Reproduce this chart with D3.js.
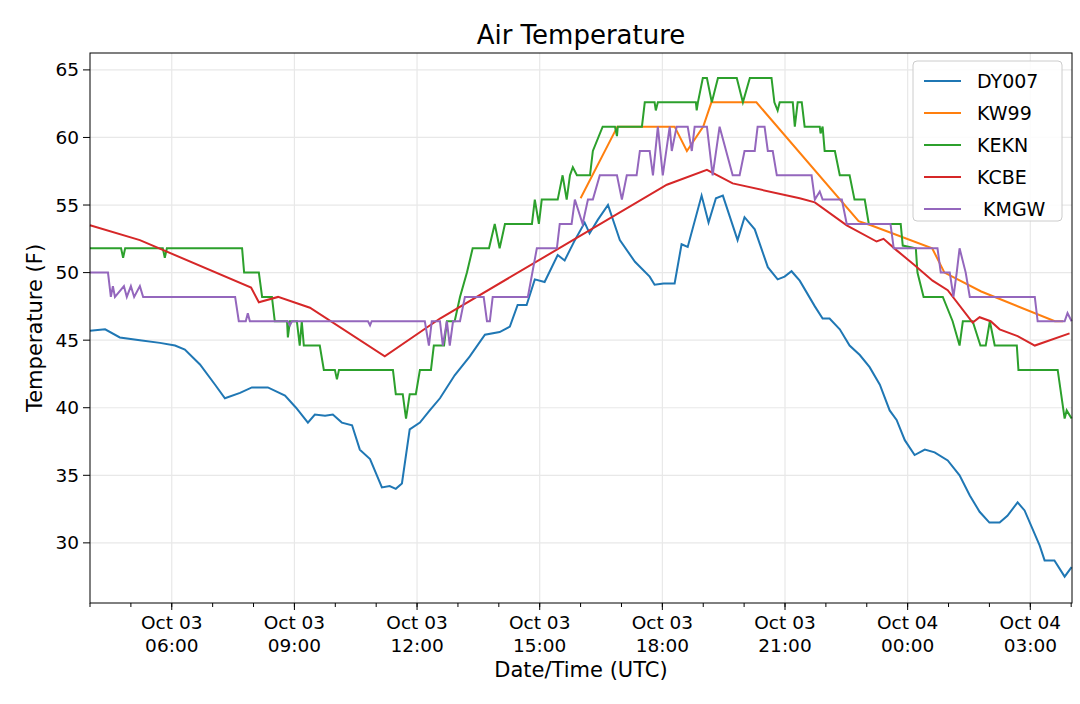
<!DOCTYPE html>
<html>
<head>
<meta charset="utf-8">
<script src="https://d3js.org/d3.v7.min.js"></script>
<style>
  body { margin: 0; background: #fff; }
  text { font-family: "DejaVu Sans", sans-serif; fill: #000; }
</style>
</head>
<body>
<div id="chart"></div>
<script>
// hours after Oct 03 04:00 UTC, temperature (F)
const dy007 = [[0,45.7],[0.37,45.8],[0.73,45.2],[1.22,45],[1.71,44.8],[2.08,44.6],[2.32,44.3],[2.69,43.2],[3.06,41.7],[3.30,40.7],[3.67,41.1],[3.96,41.5],[4.35,41.5],[4.77,40.9],[5.04,40],[5.33,38.9],[5.50,39.5],[5.75,39.4],[5.94,39.5],[6.16,38.9],[6.41,38.7],[6.60,36.9],[6.85,36.2],[7.14,34.1],[7.33,34.2],[7.48,34],[7.63,34.4],[7.82,38.4],[8.07,38.9],[8.31,39.8],[8.56,40.7],[8.92,42.4],[9.29,43.8],[9.66,45.4],[10.02,45.6],[10.27,46],[10.46,47.6],[10.68,47.6],[10.88,49.5],[11.12,49.3],[11.44,51.3],[11.61,50.9],[11.86,52.4],[12.10,53.7],[12.22,52.9],[12.42,53.9],[12.67,55],[12.96,52.4],[13.33,50.8],[13.69,49.7],[13.81,49.1],[14.03,49.2],[14.30,49.2],[14.47,52.1],[14.62,51.9],[14.96,55.7],[15.13,53.7],[15.31,55.5],[15.48,55.7],[15.84,52.4],[16.01,54.1],[16.26,53.2],[16.58,50.4],[16.82,49.5],[16.99,49.7],[17.16,50.1],[17.36,49.4],[17.73,47.5],[17.92,46.6],[18.09,46.6],[18.34,45.8],[18.58,44.6],[18.83,43.9],[19.07,43],[19.32,41.7],[19.56,39.8],[19.73,39.1],[19.93,37.6],[20.17,36.5],[20.42,36.9],[20.66,36.7],[20.98,36.1],[21.27,35],[21.52,33.5],[21.76,32.3],[22.00,31.5],[22.25,31.5],[22.44,32],[22.69,33],[22.86,32.4],[23.23,29.8],[23.35,28.7],[23.59,28.7],[23.84,27.5],[24.01,28.2]];

const kw99 = [[12.0,55.5],[12.9,60.8],[14.3,60.8],[14.6,59],[15.0,60.8],[15.2,62.6],[16.3,62.6],[18.8,53.8],[19.1,53.5],[20.6,51.8],[20.9,50],[21.8,48.6],[23.6,46.4],[23.8,46.4]];

const kekn = [[0,51.8],[0.76,51.8],[0.81,51.1],[0.86,51.8],[1.78,51.8],[1.83,51.1],[1.88,51.8],[3.72,51.8],[3.77,50],[4.13,50],[4.21,48.2],[4.45,48.2],[4.52,46.4],[4.82,46.4],[4.84,45.2],[4.89,46.4],[5.06,46.4],[5.13,44.6],[5.18,46.4],[5.23,44.6],[5.62,44.6],[5.72,42.8],[5.99,42.8],[6.04,42.1],[6.09,42.8],[7.41,42.8],[7.48,41],[7.65,41],[7.73,39.2],[7.82,41],[7.97,41],[8.07,42.8],[8.34,42.8],[8.41,44.6],[8.66,44.6],[8.73,46.4],[8.92,46.4],[9.05,48.2],[9.22,50],[9.36,51.8],[9.76,51.8],[9.90,53.6],[10.02,51.8],[10.15,53.6],[10.81,53.6],[10.88,55.4],[10.98,53.6],[11.05,55.4],[11.44,55.4],[11.56,57.2],[11.66,55.4],[11.74,57.2],[11.81,57.8],[11.91,57.2],[12.23,57.2],[12.30,59],[12.54,60.8],[12.84,60.8],[12.89,60.1],[12.91,60.8],[13.50,60.8],[13.57,62.6],[13.81,62.6],[13.84,62],[13.89,62.6],[14.82,62.6],[14.84,62],[14.87,62.6],[14.99,64.4],[15.09,64.4],[15.21,62.6],[15.36,64.4],[15.82,64.4],[15.97,62.6],[16.14,64.4],[16.67,64.4],[16.74,62.6],[16.82,62],[16.87,62.6],[17.19,62.6],[17.24,60.8],[17.31,62.6],[17.41,62.6],[17.48,60.8],[17.85,60.8],[17.87,60.3],[17.92,60.8],[17.97,59],[18.22,59],[18.34,57.2],[18.58,57.2],[18.70,55.4],[18.95,55.4],[19.05,53.6],[19.83,53.6],[19.88,52],[20.20,51.8],[20.24,50],[20.39,48.2],[20.86,48.2],[21.10,46.4],[21.27,44.6],[21.35,46.4],[21.59,46.4],[21.78,44.6],[21.91,44.6],[22.01,46.4],[22.13,44.6],[22.67,44.6],[22.71,42.8],[23.67,42.8],[23.84,39.2],[23.89,39.8],[24.01,39.2]];

const kcbe = [[0,53.5],[1.22,52.4],[3.94,48.9],[4.13,47.8],[4.60,48.2],[5.38,47.4],[7.21,43.8],[8.56,46.6],[14.11,56.5],[15.09,57.6],[15.72,56.6],[17.36,55.5],[17.73,55.2],[18.51,53.5],[19.24,52.3],[19.41,52.5],[19.71,51.7],[20.15,50.6],[20.61,49.4],[20.98,48.7],[21.59,46.3],[21.76,46.7],[22.03,46.4],[22.25,45.8],[22.69,45.3],[23.11,44.6],[23.96,45.5]];

const kmgw = [[0,50],[0.44,50],[0.51,48.2],[0.56,49],[0.61,48.2],[0.83,49],[0.90,48.2],[1.00,49],[1.08,48.2],[1.22,49],[1.30,48.2],[3.55,48.2],[3.64,46.4],[3.81,46.4],[3.86,47],[3.91,46.4],[4.84,46.4],[4.89,46.1],[4.94,46.4],[6.80,46.4],[6.85,46.1],[6.89,46.4],[8.19,46.4],[8.29,44.6],[8.36,46.4],[8.56,46.4],[8.63,44.6],[8.73,46.4],[8.80,44.6],[8.88,46.4],[9.05,46.4],[9.17,48.2],[9.63,48.2],[9.71,46.4],[9.78,46.4],[9.85,48.2],[10.71,48.2],[10.93,51.8],[11.42,51.8],[11.49,53.6],[11.78,53.6],[11.86,55.4],[12.05,53.6],[12.18,55.4],[12.30,55.4],[12.47,57.2],[12.89,57.2],[13.01,55.4],[13.13,57.2],[13.37,57.2],[13.45,59],[13.69,59],[13.77,57.2],[13.89,60.8],[14.01,57.2],[14.18,60.8],[14.23,59],[14.35,60.8],[14.62,60.8],[14.72,59],[14.79,60.8],[15.09,60.8],[15.23,57.2],[15.40,60.8],[15.72,57.2],[15.89,57.2],[16.01,59],[16.26,59],[16.33,60.8],[16.50,60.8],[16.58,59],[16.70,59],[16.80,57.2],[17.65,57.2],[17.73,55.4],[17.85,56],[17.92,55.4],[18.39,55.4],[18.51,53.6],[19.58,53.6],[19.66,51.8],[20.73,51.8],[20.81,50],[21.03,50],[21.12,48.2],[21.20,50],[21.27,51.8],[21.42,50],[21.52,48.2],[23.11,48.2],[23.18,46.4],[23.84,46.4],[23.91,47],[24.01,46.4]];

const seriesNames = ["DY007", "KW99", "KEKN", "KCBE", " KMGW"];
const seriesData = [dy007, kw99, kekn, kcbe, kmgw];
const colors = ["#1f77b4", "#ff7f0e", "#2ca02c", "#d62728", "#9467bd"];
const yTicks = [30, 35, 40, 45, 50, 55, 60, 65];

const W = 1080, H = 704;
const margin = { left: 90, right: 8, top: 53, bottom: 101 };
const start = new Date(Date.UTC(2017, 9, 3, 4, 0));
const toDate = (h) => new Date(start.getTime() + h * 3600e3);

const svg = d3.select("#chart").append("svg").attr("width", W).attr("height", H);

const x = d3.scaleUtc()
  .domain([toDate(0), toDate(24.02)])
  .range([margin.left, W - margin.right]);
const y = d3.scaleLinear()
  .domain([25.55, 66.25])
  .range([H - margin.bottom, margin.top]);

// grid
const majorX = d3.utcHour.range(toDate(0), toDate(24.02)).filter(d => d.getUTCHours() % 3 === 0);
svg.append("g").selectAll("line").data(majorX).join("line")
  .attr("x1", d => x(d)).attr("x2", d => x(d))
  .attr("y1", margin.top).attr("y2", H - margin.bottom)
  .attr("stroke", "#e8e8e8").attr("stroke-width", 1.2);
svg.append("g").selectAll("line").data(yTicks).join("line")
  .attr("x1", margin.left).attr("x2", W - margin.right)
  .attr("y1", d => y(d)).attr("y2", d => y(d))
  .attr("stroke", "#e8e8e8").attr("stroke-width", 1.2);

// lines
const line = d3.line().x(d => x(toDate(d[0]))).y(d => y(d[1]));
svg.append("g").selectAll("path").data(seriesData).join("path")
  .attr("d", line)
  .attr("fill", "none")
  .attr("stroke", (d, i) => colors[i])
  .attr("stroke-width", 2);

// frame
svg.append("rect")
  .attr("x", margin.left).attr("y", margin.top)
  .attr("width", W - margin.left - margin.right)
  .attr("height", H - margin.top - margin.bottom)
  .attr("fill", "none").attr("stroke", "#000").attr("stroke-width", 1);

// x axis
const xAxis = svg.append("g").attr("transform", `translate(0,${H - margin.bottom})`);
xAxis.selectAll("line.minor").data(d3.utcHour.range(toDate(0), toDate(24.02))).join("line")
  .attr("x1", d => x(d)).attr("x2", d => x(d)).attr("y1", 0).attr("y2", 4)
  .attr("stroke", "#000");
const xt = xAxis.selectAll("g.tick").data(majorX).join("g")
  .attr("transform", d => `translate(${x(d)},0)`);
xt.append("line").attr("y2", 7).attr("stroke", "#000");
xt.append("text").attr("y", 26).attr("text-anchor", "middle").attr("font-size", 18.5)
  .text(d3.utcFormat("%b %d"));
xt.append("text").attr("y", 49).attr("text-anchor", "middle").attr("font-size", 18.5)
  .text(d3.utcFormat("%H:%M"));

// y axis
const yt = svg.append("g").selectAll("g").data(yTicks).join("g")
  .attr("transform", d => `translate(${margin.left},${y(d)})`);
yt.append("line").attr("x2", -7).attr("stroke", "#000");
yt.append("text").attr("x", -11).attr("dy", "0.35em").attr("text-anchor", "end")
  .attr("font-size", 18.5).text(d => d);

// labels
svg.append("text").attr("x", (margin.left + W - margin.right) / 2).attr("y", 44)
  .attr("text-anchor", "middle").attr("font-size", 26).text("Air Temperature");
svg.append("text").attr("x", (margin.left + W - margin.right) / 2).attr("y", 677)
  .attr("text-anchor", "middle").attr("font-size", 21).text("Date/Time (UTC)");
svg.append("text").attr("transform", `translate(42,${(margin.top + H - margin.bottom) / 2}) rotate(-90)`)
  .attr("text-anchor", "middle").attr("font-size", 21).text("Temperature (F)");

// legend
const lg = svg.append("g").attr("transform", "translate(913,61)");
lg.append("rect").attr("width", 149).attr("height", 160).attr("rx", 4)
  .attr("fill", "#fff").attr("fill-opacity", 0.85).attr("stroke", "#ccc");
const li = lg.selectAll("g.item").data(seriesNames).join("g")
  .attr("transform", (d, i) => `translate(0,${20 + i * 32})`);
li.append("line").attr("x1", 11).attr("x2", 48).attr("stroke", (d, i) => colors[i]).attr("stroke-width", 2);
li.append("text").attr("x", 64).attr("dy", "0.35em").attr("font-size", 19)
  .attr("xml:space", "preserve").style("white-space", "pre").text(d => d);
</script>
</body>
</html>
